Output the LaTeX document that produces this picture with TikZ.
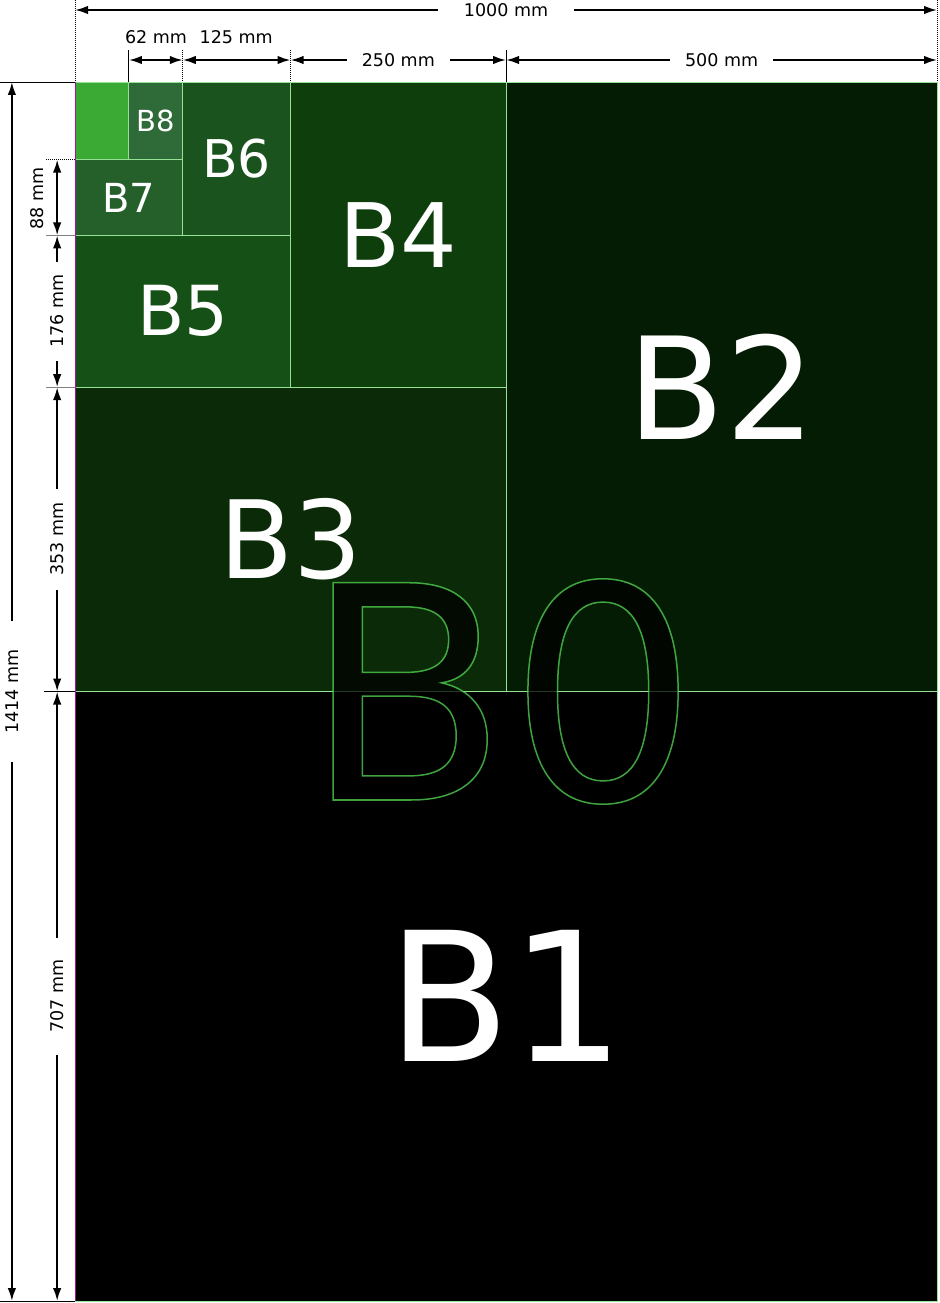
\documentclass[tikz,border=0pt]{standalone}
\usepackage{fontspec}
\setmainfont{DejaVu Sans}
\usetikzlibrary{arrows.meta}
\definecolor{bnine}{RGB}{58,170,53}
\definecolor{beight}{RGB}{47,107,57}
\definecolor{bseven}{RGB}{37,96,43}
\definecolor{bsix}{RGB}{27,83,30}
\definecolor{bfive}{RGB}{21,80,22}
\definecolor{bfour}{RGB}{15,62,13}
\definecolor{bthree}{RGB}{11,42,8}
\definecolor{btwo}{RGB}{4,27,4}
\definecolor{sheetedge}{RGB}{150,225,150}
\definecolor{leftedge}{RGB}{160,20,160}
% text drawn as filled and stroked outline
\newcommand\outlined[1]{\special{pdf:literal direct q 0.33 0.85 0.33 RG 1.5 w 2 Tr}#1\special{pdf:literal direct Q}}
\tikzset{
	dim/.style={line width=2pt,>={Latex[length=13pt,width=8.5pt]},<->},
	ext/.style={line width=0.8pt},
	dimlabel/.style={fill=white,inner ysep=1pt,inner xsep=15pt,font=\fontsize{17.5}{20}\selectfont},
	sheetlabel/.style={white,inner sep=0pt}
}
\begin{document}
\begin{tikzpicture}[x=0.862pt,y=-0.862pt]
\useasboundingbox (-87,-95.1) rectangle (1002.3,1416.3);
% sheets
\foreach \xa/\ya/\xb/\yb/\col in {0/707/1000/1414/black, 500/0/1000/707/btwo, 0/354/500/707/bthree,
	250/0/500/354/bfour, 0/178/250/354/bfive, 125/0/250/178/bsix, 0/90/125/178/bseven,
	62.5/0/125/90/beight, 0/0/62.5/90/bnine}
{
	\fill[\col] (\xa,\ya) rectangle (\xb,\yb);
}
\draw[sheetedge,line width=0.9pt] (0,0) rectangle (1000,1414)
	(0,707)--(1000,707) (500,0)--(500,707) (0,354)--(500,354) (250,0)--(250,354)
	(0,178)--(250,178) (125,0)--(125,178) (0,90)--(125,90) (62.5,0)--(62.5,90);
\draw[leftedge,line width=0.6pt] (0,0)--(0,1414);
\foreach \name/\cx/\cy/\size in {B1/500/1060.5/180, B2/750/353.5/142, B3/250/530.5/108,
	B4/375/177/89, B5/125/266/69, B6/187.5/89/52, B7/62.5/134/40, B8/93.75/45/29}
{
	\node[sheetlabel,font=\fontsize{\size}{\size}\selectfont] (\name) at (\cx,\cy) {\name};
}
\node[inner sep=0pt,text=black,text opacity=0.75,font=\fontsize{298}{298}\selectfont] (B0) at (494,707) {\outlined{B0}};
% extension lines
\draw[ext] (-87,0)--(0,0) (-36,707)--(0,707) (-87,1414)--(0,1414) (62.5,-37)--(62.5,0) (500,-37)--(500,0);
\draw[ext,dash pattern=on 1pt off 1pt] (0,-95)--(0,0) (1000,-95)--(1000,0) (125,-37)--(125,0) (250,-37)--(250,0) (-33.6,90)--(0,90);
\draw[ext,gray] (-33.6,178)--(0,178) (-33.6,354)--(0,354);
% widths
\draw[dim] (0,-83.5) -- node[dimlabel,inner xsep=26pt]{1000 mm} (1000,-83.5);
\draw[dim] (62.5,-25.5) -- (125,-25.5);
\draw[dim] (125,-25.5) -- (250,-25.5);
\draw[dim] (250,-25.5) -- node[dimlabel]{250 mm} (500,-25.5);
\draw[dim] (500,-25.5) -- node[dimlabel]{500 mm} (1000,-25.5);
\node[dimlabel,fill=none,inner sep=0pt] (w62) at (94,-52) {62 mm};
\node[dimlabel,fill=none,inner sep=0pt] (w125) at (187,-52) {125 mm};
% heights
\draw[dim] (-73.2,0) -- node[dimlabel,rotate=90,inner xsep=28pt]{1414 mm} (-73.2,1414);
\draw[dim] (-20.7,90) -- (-20.7,178);
\node[dimlabel,fill=none,inner sep=0pt,rotate=90] (h88) at (-44.5,135) {88 mm};
\draw[dim] (-20.7,178) -- node[dimlabel,rotate=90,inner xsep=13pt]{176 mm} (-20.7,354);
\draw[dim] (-20.7,354) -- node[dimlabel,rotate=90,inner xsep=14pt]{353 mm} (-20.7,707);
\draw[dim] (-20.7,707) -- node[dimlabel,rotate=90,inner xsep=22pt]{707 mm} (-20.7,1414);
\end{tikzpicture}
\end{document}
